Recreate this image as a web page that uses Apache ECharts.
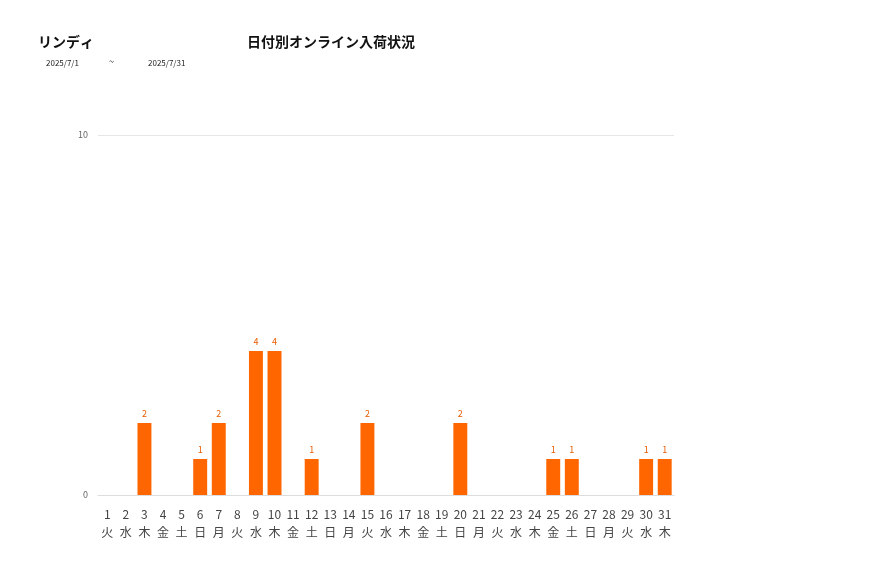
<!DOCTYPE html>
<html>
<head>
<meta charset="utf-8">
<script src="https://cdn.jsdelivr.net/npm/echarts@6/dist/echarts.min.js"></script>
<style>
html,body{margin:0;padding:0;background:#fff;}
#chart{width:877px;height:578px;}
</style>
</head>
<body>
<div id="chart"></div>
<script>
/* データ */
const shopName="リンディ";
const chartTitle="日付別オンライン入荷状況";
const dateFrom="2025/7/1";
const dateTo="2025/7/31";

const days=["1","2","3","4","5","6","7","8","9","10","11","12","13","14","15","16","17","18","19","20","21","22","23","24","25","26","27","28","29","30","31"];
const weekdays=["火","水","木","金","土","日","月","火","水","木","金","土","日","月","火","水","木","金","土","日","月","火","水","木","金","土","日","月","火","水","木"];
const counts=[0,0,2,0,0,1,2,0,4,4,0,1,0,0,2,0,0,0,0,2,0,0,0,0,1,1,0,0,0,1,1];

const font="'Noto Sans CJK JP','Noto Sans',sans-serif";

let chart=echarts.init(document.getElementById("chart"));

chart.setOption({
  animation:false,
  textStyle:{fontFamily:font},
  title:[
    {text:shopName,left:33,top:30,textStyle:{fontSize:14,fontWeight:"bold",color:"#111",fontFamily:font}},
    {text:chartTitle,left:242,top:30,textStyle:{fontSize:14,fontWeight:"bold",color:"#111",fontFamily:font}},
    {text:dateFrom,left:41,top:54,textStyle:{fontSize:8,fontWeight:"normal",color:"#222",fontFamily:font}},
    {text:"~",left:104,top:52,textStyle:{fontSize:9,fontWeight:"normal",color:"#222",fontFamily:font}},
    {text:dateTo,left:143,top:54,textStyle:{fontSize:8,fontWeight:"normal",color:"#222",fontFamily:font}}
  ],
  grid:{left:98,right:203,top:135,bottom:83,containLabel:false},
  xAxis:{
    type:"category",
    data:days.map((d,i)=>d+"\n"+weekdays[i]),
    axisLine:{show:true,lineStyle:{color:"#ddd"}},
    axisTick:{show:false},
    axisLabel:{interval:0,color:"#444",fontSize:12,lineHeight:18,margin:10,fontFamily:font}
  },
  yAxis:{
    type:"value",
    min:0,max:10,interval:10,
    axisLine:{show:false},
    axisTick:{show:false},
    splitLine:{lineStyle:{color:"#e6e6e6"}},
    axisLabel:{color:"#666",fontSize:9,margin:10}
  },
  series:[{
    type:"bar",
    data:counts.map(v=>v===0?null:v),
    barWidth:"75%",
    itemStyle:{color:"#ff6600"},
    label:{show:true,position:"top",color:"#e65c00",fontSize:9,distance:5}
  }]
});
</script>
</body>
</html>
